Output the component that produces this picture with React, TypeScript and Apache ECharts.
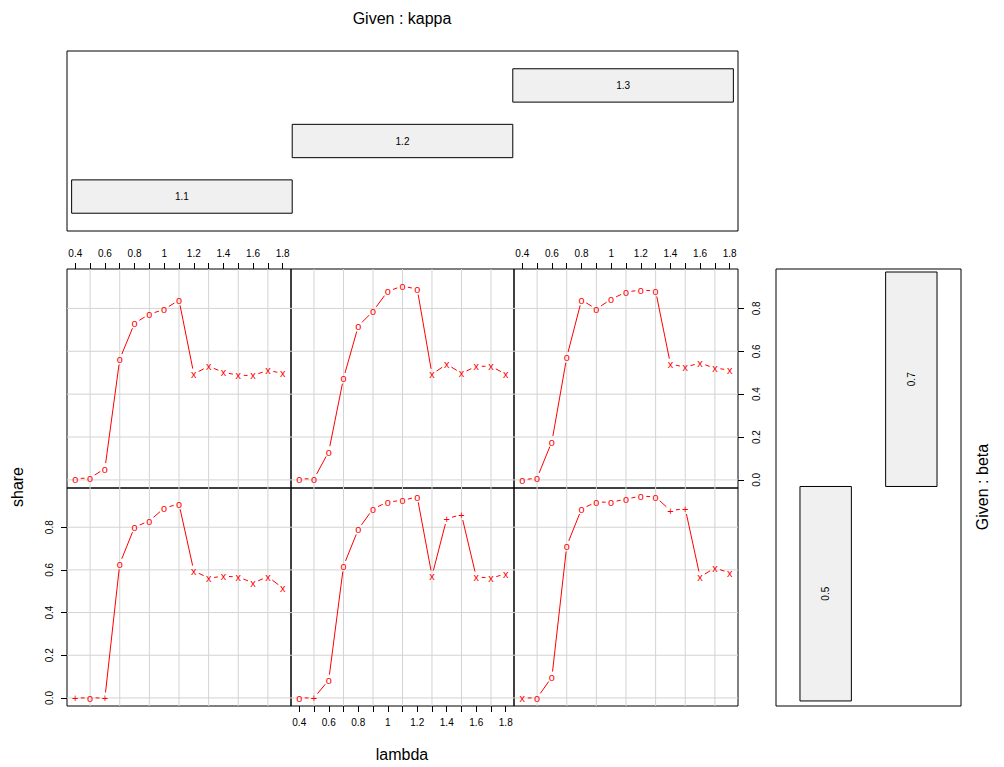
import React, { useEffect, useRef } from "react";
import * as echarts from "echarts";

// ---- data ----
const lambda = [0.4, 0.5, 0.6, 0.7, 0.8, 0.9, 1.0, 1.1, 1.2, 1.3, 1.4, 1.5, 1.6, 1.7, 1.8];

// top row: beta = 0.7 ; bottom row: beta = 0.5 ; columns: kappa = 1.1, 1.2, 1.3
const shareB07K11 = [0.006, 0.009, 0.053, 0.563, 0.731, 0.773, 0.795, 0.839, 0.494, 0.53, 0.502, 0.488, 0.487, 0.511, 0.497];
const symB07K11 = ["o", "o", "o", "o", "o", "o", "o", "o", "x", "x", "x", "x", "x", "x", "x"];
const shareB07K12 = [0.005, 0.005, 0.132, 0.474, 0.717, 0.787, 0.88, 0.904, 0.89, 0.493, 0.54, 0.497, 0.53, 0.53, 0.493];
const symB07K12 = ["o", "o", "o", "o", "o", "o", "o", "o", "o", "x", "x", "x", "x", "x", "x"];
const shareB07K13 = [0.0, 0.009, 0.179, 0.572, 0.839, 0.797, 0.843, 0.876, 0.886, 0.881, 0.54, 0.526, 0.545, 0.521, 0.513];
const symB07K13 = ["o", "o", "o", "o", "o", "o", "o", "o", "o", "o", "x", "x", "x", "x", "x"];
const shareB05K11 = [0, 0, 0, 0.628, 0.801, 0.829, 0.89, 0.909, 0.595, 0.562, 0.57, 0.567, 0.539, 0.568, 0.515];
const symB05K11 = ["+", "o", "+", "o", "o", "o", "o", "o", "x", "x", "x", "x", "x", "x", "x"];
const shareB05K12 = [0, 0, 0.084, 0.618, 0.79, 0.886, 0.918, 0.926, 0.942, 0.572, 0.84, 0.859, 0.567, 0.562, 0.581];
const symB05K12 = ["o", "+", "o", "o", "o", "o", "o", "o", "o", "x", "+", "+", "x", "x", "x"];
const shareB05K13 = [0, 0, 0.098, 0.712, 0.886, 0.918, 0.917, 0.932, 0.946, 0.942, 0.878, 0.887, 0.567, 0.609, 0.586];
const symB05K13 = ["x", "o", "o", "o", "o", "o", "o", "o", "o", "o", "+", "+", "x", "x", "x"];

const xTicks = [0.4, 0.5, 0.6, 0.7, 0.8, 0.9, 1.0, 1.1, 1.2, 1.3, 1.4, 1.5, 1.6, 1.7, 1.8];
const xTickLabels = [0.4, 0.6, 0.8, 1.0, 1.2, 1.4, 1.6, 1.8];
const yTicks = [0, 0.2, 0.4, 0.6, 0.8];
const xGridLines = [0.5, 0.7, 0.9, 1.1, 1.3, 1.5, 1.7];
const yGridLines = [0, 0.2, 0.4, 0.6, 0.8];

const kappaLevels = ["1.1", "1.2", "1.3"];
const kappaLo = [1.05, 1.15, 1.25];
const kappaHi = [1.15, 1.25, 1.35];
const betaLevels = ["0.5", "0.7"];
const betaLo = [0.4, 0.6];
const betaHi = [0.6, 0.8];

// ---- layout ----
const FONT = "Liberation Sans, Arial, Helvetica, sans-serif";
const colLeft = [67, 291, 514];
const colWidth = [224, 223, 224];
const rowTop = [269, 488];
const rowHeight = [219, 218];
const X_MIN = 0.344;
const X_MAX = 1.856;
const Y_MIN = -0.0378;
const Y_MAX = 0.9838;

const panels = [
  { row: 0, col: 0, vals: shareB07K11, syms: symB07K11 },
  { row: 0, col: 1, vals: shareB07K12, syms: symB07K12 },
  { row: 0, col: 2, vals: shareB07K13, syms: symB07K13 },
  { row: 1, col: 0, vals: shareB05K11, syms: symB05K11 },
  { row: 1, col: 1, vals: shareB05K12, syms: symB05K12 },
  { row: 1, col: 2, vals: shareB05K13, syms: symB05K13 },
];

function buildOption() {
  const grid: any[] = [];
  const xAxis: any[] = [];
  const yAxis: any[] = [];
  const series: any[] = [];

  panels.forEach((p, i) => {
    grid.push({
      left: colLeft[p.col],
      top: rowTop[p.row],
      width: colWidth[p.col],
      height: rowHeight[p.row],
      show: true,
      borderColor: "#000",
      borderWidth: 1,
      backgroundColor: "transparent",
      containLabel: false,
    });
    const showX = (p.row === 0 && p.col !== 1) || (p.row === 1 && p.col === 1);
    const showYLeft = p.row === 1 && p.col === 0;
    const showYRight = p.row === 0 && p.col === 2;
    xAxis.push({
      type: "value",
      gridIndex: i,
      min: X_MIN,
      max: X_MAX,
      position: p.row === 0 ? "top" : "bottom",
      axisLine: { show: false, onZero: false },
      splitLine: { show: false },
      axisTick: { show: showX, customValues: xTicks, length: 6, lineStyle: { color: "#000", width: 1 } },
      axisLabel: {
        show: showX,
        customValues: xTickLabels,
        margin: 11,
        fontSize: 10,
        color: "#000",
        fontFamily: FONT,
        formatter: (v: number) => String(v),
      },
    });
    yAxis.push({
      type: "value",
      gridIndex: i,
      min: Y_MIN,
      max: Y_MAX,
      position: showYRight ? "right" : "left",
      axisLine: { show: false, onZero: false },
      splitLine: { show: false },
      axisTick: {
        show: showYLeft || showYRight,
        customValues: yTicks,
        length: 6,
        lineStyle: { color: "#000", width: 1 },
      },
      axisLabel: {
        show: showYLeft || showYRight,
        customValues: yTicks,
        rotate: 90,
        margin: 13,
        fontSize: 10,
        color: "#000",
        fontFamily: FONT,
        formatter: (v: number) => v.toFixed(1),
      },
    });
    // vertical grid lines
    series.push({
      type: "custom",
      xAxisIndex: i,
      yAxisIndex: i,
      silent: true,
      z: 1,
      data: xGridLines.map((v) => [v, 0]),
      renderItem: (params: any, api: any) => {
        const cs = params.coordSys;
        const x = api.coord([api.value(0), 0])[0];
        return {
          type: "line",
          shape: { x1: x, y1: cs.y, x2: x, y2: cs.y + cs.height },
          style: { stroke: "#d3d3d3", lineWidth: 1 },
        };
      },
    });
    // horizontal grid lines
    series.push({
      type: "custom",
      xAxisIndex: i,
      yAxisIndex: i,
      silent: true,
      z: 1,
      data: yGridLines.map((v) => [1.0, v]),
      renderItem: (params: any, api: any) => {
        const cs = params.coordSys;
        const y = api.coord([1.0, api.value(1)])[1];
        return {
          type: "line",
          shape: { x1: cs.x, y1: y, x2: cs.x + cs.width, y2: y },
          style: { stroke: "#d3d3d3", lineWidth: 1 },
        };
      },
    });
    // data: type "b" (points with gapped line segments)
    const vals = p.vals;
    const syms = p.syms;
    series.push({
      type: "custom",
      xAxisIndex: i,
      yAxisIndex: i,
      silent: true,
      z: 3,
      data: lambda.map((l, k) => [l, vals[k]]),
      renderItem: (params: any, api: any) => {
        const k = params.dataIndex;
        const pt = api.coord([api.value(0), api.value(1)]);
        const children: any[] = [];
        if (k < lambda.length - 1) {
          const q = api.coord([lambda[k + 1], vals[k + 1]]);
          const dx = q[0] - pt[0];
          const dy = q[1] - pt[1];
          const d = Math.hypot(dx, dy);
          const g = 5.5;
          if (d > 2 * g) {
            children.push({
              type: "line",
              shape: {
                x1: pt[0] + (dx / d) * g,
                y1: pt[1] + (dy / d) * g,
                x2: q[0] - (dx / d) * g,
                y2: q[1] - (dy / d) * g,
              },
              style: { stroke: "#ff0000", lineWidth: 1 },
            });
          }
        }
        children.push({
          type: "text",
          x: pt[0],
          y: pt[1],
          style: {
            text: syms[k],
            fill: "#ff0000",
            font: "11px " + FONT,
            align: "center",
            verticalAlign: "middle",
          },
        });
        return { type: "group", children };
      },
    });
  });

  // top given panel (kappa)
  const gK = grid.length;
  grid.push({ left: 67, top: 51, width: 671, height: 180, show: true, borderColor: "#000", borderWidth: 1, backgroundColor: "transparent" });
  xAxis.push({ type: "value", gridIndex: gK, min: 1.0479, max: 1.3521, show: false });
  yAxis.push({ type: "value", gridIndex: gK, min: 0.38, max: 3.62, show: false });
  series.push({
    type: "custom",
    xAxisIndex: gK,
    yAxisIndex: gK,
    silent: true,
    data: kappaLevels.map((_, k) => [kappaLo[k], kappaHi[k], k + 1]),
    encode: { x: [0, 1], y: 2 },
    renderItem: (params: any, api: any) => {
      const k = params.dataIndex;
      const a = api.coord([api.value(0), api.value(2) + 0.3]);
      const b = api.coord([api.value(1), api.value(2) - 0.3]);
      return {
        type: "group",
        children: [
          {
            type: "rect",
            shape: { x: a[0], y: a[1], width: b[0] - a[0], height: b[1] - a[1] },
            style: { fill: "#f0f0f0", stroke: "#000", lineWidth: 1 },
          },
          {
            type: "text",
            x: (a[0] + b[0]) / 2,
            y: (a[1] + b[1]) / 2,
            style: { text: kappaLevels[k], fill: "#000", font: "10px " + FONT, align: "center", verticalAlign: "middle" },
          },
        ],
      };
    },
  });

  // right given panel (beta)
  const gB = grid.length;
  grid.push({ left: 776, top: 269, width: 185, height: 437, show: true, borderColor: "#000", borderWidth: 1, backgroundColor: "transparent" });
  xAxis.push({ type: "value", gridIndex: gB, min: 0.42, max: 2.58, show: false });
  yAxis.push({ type: "value", gridIndex: gB, min: 0.3953, max: 0.8028, show: false });
  series.push({
    type: "custom",
    xAxisIndex: gB,
    yAxisIndex: gB,
    silent: true,
    data: betaLevels.map((_, k) => [k + 1, betaLo[k], betaHi[k]]),
    encode: { x: 0, y: [1, 2] },
    renderItem: (params: any, api: any) => {
      const k = params.dataIndex;
      const a = api.coord([api.value(0) - 0.3, api.value(2)]);
      const b = api.coord([api.value(0) + 0.3, api.value(1)]);
      return {
        type: "group",
        children: [
          {
            type: "rect",
            shape: { x: a[0], y: a[1], width: b[0] - a[0], height: b[1] - a[1] },
            style: { fill: "#f0f0f0", stroke: "#000", lineWidth: 1 },
          },
          {
            type: "text",
            x: (a[0] + b[0]) / 2,
            y: (a[1] + b[1]) / 2,
            rotation: Math.PI / 2,
            style: { text: betaLevels[k], fill: "#000", font: "10px " + FONT, align: "center", verticalAlign: "middle" },
          },
        ],
      };
    },
  });

  const titleStyle = { fill: "#000", font: "16px " + FONT, align: "center", verticalAlign: "middle" };
  return {
    animation: false,
    backgroundColor: "#fff",
    grid,
    xAxis,
    yAxis,
    series,
    graphic: [
      { type: "text", x: 402, y: 18, style: { ...titleStyle, text: "Given : kappa" } },
      { type: "text", x: 402, y: 754, style: { ...titleStyle, text: "lambda" } },
      { type: "text", x: 17, y: 487, rotation: Math.PI / 2, style: { ...titleStyle, text: "share" } },
      { type: "text", x: 982, y: 487, rotation: Math.PI / 2, style: { ...titleStyle, text: "Given : beta" } },
    ],
  };
}

export default function App() {
  const ref = useRef<HTMLDivElement>(null);
  useEffect(() => {
    if (!ref.current) return;
    const chart = echarts.init(ref.current, undefined, { renderer: "svg" });
    chart.setOption(buildOption() as any);
    return () => chart.dispose();
  }, []);
  return (
    <div
      ref={ref}
      style={{ position: "absolute", left: 0, top: 0, width: 1004, height: 767, background: "#fff" }}
    />
  );
}
